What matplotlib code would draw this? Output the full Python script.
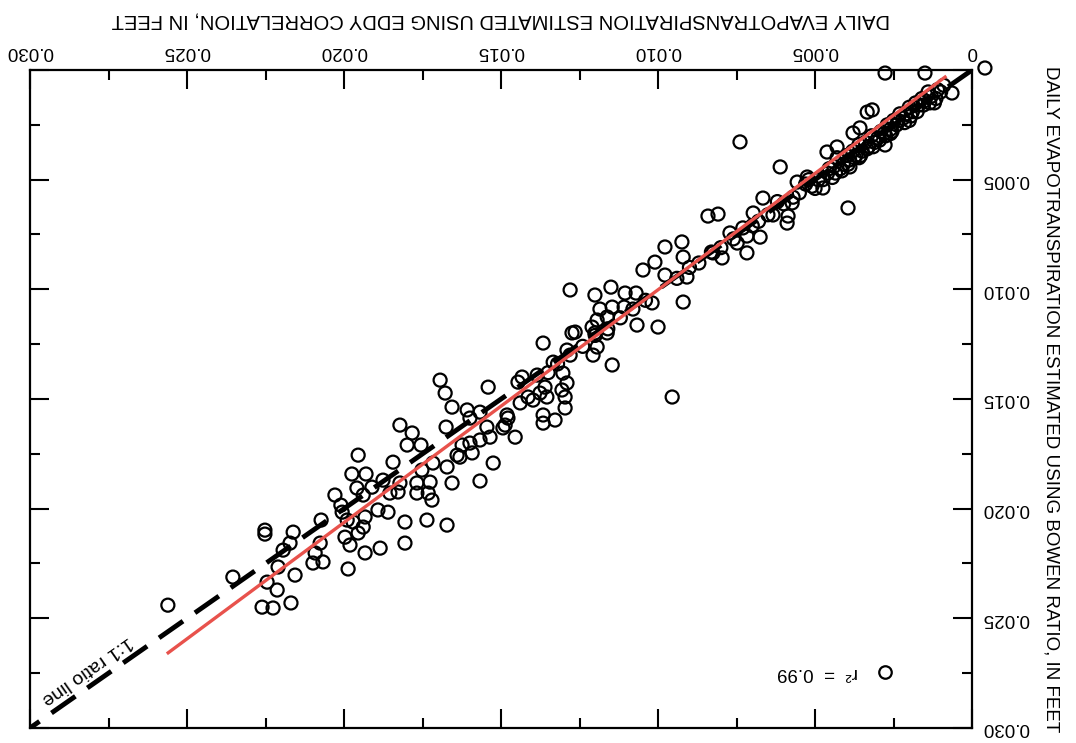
import numpy as np
import matplotlib.pyplot as plt
from matplotlib.ticker import MultipleLocator

plt.rcParams['font.family'] = ['Liberation Sans', 'DejaVu Sans']
plt.rcParams['axes.linewidth'] = 1.6
plt.rcParams['xtick.major.size'] = 14
plt.rcParams['ytick.major.size'] = 14
plt.rcParams['xtick.minor.size'] = 7
plt.rcParams['ytick.minor.size'] = 7
plt.rcParams['xtick.major.width'] = 1.5
plt.rcParams['ytick.major.width'] = 1.5
plt.rcParams['xtick.minor.width'] = 1.5
plt.rcParams['ytick.minor.width'] = 1.5

# daily ET, in feet: eddy correlation (x) vs Bowen ratio (y)
eddy = [
    -0.00041, 0.00277, 0.00150, 0.00064, 0.00334, 0.00318, 0.00357, 0.00277, 0.00379, 0.00430,
    0.00462, 0.00389, 0.00739, 0.00611, 0.00557, 0.00525, 0.00475, 0.00395, 0.00666, 0.00573,
    0.00634, 0.00586, 0.00589, 0.00697, 0.00841, 0.00809, 0.00771, 0.00748, 0.00717, 0.00675,
    0.00717, 0.00796, 0.00825, 0.00924, 0.00978, 0.00920, 0.01010, 0.01048, 0.00978, 0.00908,
    0.01105, 0.01070, 0.00920, 0.01019, 0.01280, 0.01201, 0.01150, 0.01108, 0.01146, 0.01185,
    0.01162, 0.01194, 0.01067, 0.01000, 0.01264, 0.01210, 0.01201, 0.01162, 0.01366, 0.01274,
    0.01290, 0.01194, 0.01207, 0.01334, 0.01146, 0.00955, 0.01541, 0.01433, 0.01446, 0.01385,
    0.01360, 0.01376, 0.01414, 0.01439, 0.01303, 0.01290, 0.01306, 0.01296, 0.01296, 0.01366,
    0.01328, 0.01366, 0.01481, 0.01487, 0.01608, 0.01567, 0.01599, 0.01545, 0.01694, 0.01678,
    0.01656, 0.01675, 0.01822, 0.01783, 0.01755, 0.01799, 0.01955, 0.01844, 0.01975, 0.01930,
    0.02029, 0.02010, 0.02073, 0.01876, 0.01525, 0.01567, 0.01656, 0.01720, 0.01736, 0.01672,
    0.01806, 0.01354, 0.01398, 0.01478, 0.01494, 0.01455, 0.01535, 0.01567, 0.01599, 0.01624,
    0.01640, 0.01592, 0.01631, 0.01672, 0.01717, 0.01752, 0.01726, 0.01768, 0.01732, 0.01768,
    0.01822, 0.01854, 0.01892, 0.01860, 0.01933, 0.01971, 0.02252, 0.02252, 0.02162, 0.02172,
    0.02194, 0.02354, 0.02561, 0.02261, 0.02226, 0.02169, 0.02213, 0.02210, 0.02156, 0.02099,
    0.02067, 0.02092, 0.02076, 0.01987, 0.01933, 0.01885, 0.01997, 0.01981, 0.01955, 0.01939,
    0.01990, 0.02006, 0.01828, 0.01806, 0.01939, 0.01959, 0.01911, 0.02245,
    0.0009, 0.0010, 0.0011, 0.0013, 0.0014, 0.0015, 0.0016, 0.0017, 0.0018, 0.0019,
    0.0020, 0.0021, 0.0022, 0.0023, 0.0024, 0.0025, 0.0026, 0.0027, 0.0028, 0.0029,
    0.0030, 0.0031, 0.0032, 0.0033, 0.0034, 0.0035, 0.0036, 0.0037, 0.0038, 0.0039,
    0.0040, 0.0041, 0.0042, 0.0044, 0.0046, 0.0036, 0.0026, 0.0020, 0.0012, 0.0043,
    0.0049, 0.0051, 0.0053, 0.0055, 0.0057, 0.0060, 0.0062, 0.0065, 0.0068, 0.0070,
    0.0073, 0.0076, 0.0080, 0.0083, 0.0087, 0.0090, 0.0094,
    0.0104, 0.0108, 0.0112, 0.0116, 0.0120, 0.0124, 0.0128, 0.0132, 0.0135,
    0.00115, 0.00135, 0.00155, 0.00175, 0.00195, 0.00215, 0.00235, 0.00255, 0.00275, 0.00295,
    0.00315, 0.00335, 0.00355, 0.00375, 0.00395, 0.00415, 0.00435, 0.00455, 0.00475, 0.00445,
    0.00500, 0.00520,
]
bowen = [
    -0.00009, 0.00014, 0.00014, 0.00105, 0.00192, 0.00182, 0.00264, 0.00342, 0.00287, 0.00351,
    0.00374, 0.00442, 0.00328, 0.00442, 0.00511, 0.00488, 0.00538, 0.00629, 0.00584, 0.00606,
    0.00661, 0.00666, 0.00698, 0.00652, 0.00666, 0.00657, 0.00743, 0.00789, 0.00757, 0.00762,
    0.00834, 0.00857, 0.00834, 0.00784, 0.00807, 0.00853, 0.00876, 0.00912, 0.00935, 0.00944,
    0.01017, 0.01017, 0.01058, 0.01062, 0.01003, 0.01026, 0.00990, 0.01081, 0.01081, 0.01090,
    0.01126, 0.01140, 0.01163, 0.01172, 0.01195, 0.01172, 0.01199, 0.01199, 0.01245, 0.01199,
    0.01277, 0.01263, 0.01300, 0.01332, 0.01345, 0.01491, 0.01446, 0.01400, 0.01423, 0.01391,
    0.01446, 0.01473, 0.01491, 0.01518, 0.01382, 0.01427, 0.01459, 0.01491, 0.01541, 0.01573,
    0.01596, 0.01610, 0.01573, 0.01619, 0.01550, 0.01560, 0.01587, 0.01628, 0.01414, 0.01473,
    0.01537, 0.01628, 0.01619, 0.01655, 0.01710, 0.01710, 0.01756, 0.01788, 0.01842, 0.01842,
    0.01938, 0.01984, 0.02052, 0.01870, 0.01792, 0.01874, 0.01883, 0.01961, 0.02052, 0.02075,
    0.02061, 0.01491, 0.01505, 0.01587, 0.01632, 0.01674, 0.01674, 0.01687, 0.01701, 0.01710,
    0.01756, 0.01746, 0.01765, 0.01810, 0.01792, 0.01824, 0.01879, 0.01883, 0.01929, 0.01929,
    0.01883, 0.01929, 0.02006, 0.02016, 0.02038, 0.02061, 0.02098, 0.02116, 0.02107, 0.02157,
    0.02189, 0.02312, 0.02440, 0.02449, 0.02453, 0.02430, 0.02371, 0.02266, 0.02303, 0.02248,
    0.02243, 0.02202, 0.02157, 0.02275, 0.02202, 0.02180, 0.02130, 0.02166, 0.02111, 0.02084,
    0.02052, 0.02016, 0.01924, 0.02157, 0.01938, 0.01906, 0.01902, 0.02335,
    0.0007, 0.0010, 0.0009, 0.0012, 0.0010, 0.0014, 0.0013, 0.0016, 0.0015, 0.0019,
    0.0017, 0.0020, 0.0022, 0.0020, 0.0025, 0.0023, 0.0027, 0.0025, 0.0029, 0.0028,
    0.0031, 0.0033, 0.0030, 0.0035, 0.0033, 0.0037, 0.0034, 0.0039, 0.0037, 0.0041,
    0.0039, 0.0043, 0.0045, 0.0044, 0.0047, 0.0040, 0.0029, 0.0023, 0.0015, 0.0040,
    0.0050, 0.0053, 0.0052, 0.0056, 0.0058, 0.0061, 0.0060, 0.0066, 0.0069, 0.0071,
    0.0072, 0.0077, 0.0081, 0.0083, 0.0088, 0.0090, 0.0095,
    0.0105, 0.0109, 0.0113, 0.0118, 0.0121, 0.0126, 0.0130, 0.0134, 0.0138,
    0.00130, 0.00150, 0.00160, 0.00190, 0.00210, 0.00240, 0.00230, 0.00280, 0.00300, 0.00320,
    0.00350, 0.00360, 0.00390, 0.00400, 0.00430, 0.00460, 0.00470, 0.00450, 0.00500, 0.00490,
    0.00540, 0.00500,
]

# regression line (red) and its reported fit
fit_slope = 1.061
fit_intercept = -0.00059
fit_x = [0.00086, 0.0256]
r_squared = 0.99

ticks = [0, 0.005, 0.010, 0.015, 0.020, 0.025, 0.030]
x_tick_labels = ['0', '0.005', '0.010', '0.015', '0.020', '0.025', '0.030']
y_tick_labels = ['', '0.005', '0.010', '0.015', '0.020', '0.025', '0.030']
lim = 0.030

fig = plt.figure(figsize=(10.76, 7.43), dpi=100)
ax = fig.add_axes([0.0279, 0.0202, 0.8755, 0.8856])

ax.scatter(eddy, bowen, s=88, facecolors='none', edgecolors='black',
           linewidths=1.6, clip_on=False, zorder=2)

ax.plot([0, lim], [0, lim], color='black', lw=3.5, dashes=(6, 3), zorder=3)
fx = np.array(fit_x)
ax.plot(fx, fit_slope * fx + fit_intercept, color='#e8524c', lw=2.4, zorder=4)

ax.text(0.02818, 0.02736, '1:1 ratio line', rotation=215, fontsize=14,
        ha='center', va='center')

# r-squared key
ax.plot([0.9076], [0.085], 'o', ms=9, mfc='none', mec='black', mew=1.6,
        transform=ax.transAxes)
ax.text(0.879, 0.085, 'r\u00b2  =  %.2f' % r_squared, rotation=180, fontsize=13.5,
        ha='right', va='center', transform=ax.transAxes)

ax.set_xlim(lim, 0)
ax.set_ylim(lim, 0)
ax.set_xticks(ticks)
ax.set_xticklabels(x_tick_labels, rotation=180)
ax.set_yticks(ticks)
ax.set_yticklabels(y_tick_labels, rotation=180, va='center')
ax.xaxis.set_minor_locator(MultipleLocator(0.0025))
ax.yaxis.set_minor_locator(MultipleLocator(0.0025))
ax.tick_params(which='both', direction='in', top=True, bottom=True, left=True, right=True,
               labeltop=True, labelbottom=False, labelright=True, labelleft=False)
ax.tick_params(axis='x', labelsize=13.5, pad=7)
ax.tick_params(axis='y', labelsize=13.5, pad=7)

ax.xaxis.set_label_position('top')
ax.set_xlabel('DAILY EVAPOTRANSPIRATION ESTIMATED USING EDDY CORRELATION, IN FEET',
              rotation=180, fontsize=14.5, labelpad=13)
ax.yaxis.set_label_position('right')
ax.set_ylabel('DAILY EVAPOTRANSPIRATION ESTIMATED USING BOWEN RATIO, IN FEET',
              rotation=270, fontsize=13.5, labelpad=10, va='bottom')

fig.savefig('out.png', dpi=100)
